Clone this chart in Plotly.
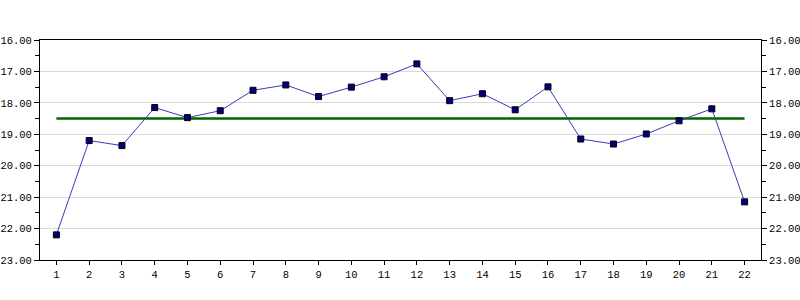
import plotly.graph_objects as go

x_vals = list(range(1, 23))
y_vals = [22.20, 19.20, 19.36, 18.15, 18.47, 18.25, 17.60, 17.43, 17.80, 17.50, 17.17,
          16.76, 17.93, 17.71, 18.22, 17.49, 19.15, 19.31, 18.99, 18.57, 18.19, 21.15]
target_value = 18.5
x_tick_labels = [str(v) for v in x_vals]

font = dict(family="Liberation Mono", size=10.5, color="#000000")

fig = go.Figure()
fig.add_trace(go.Scatter(
    x=[x_vals[0], x_vals[-1]], y=[target_value, target_value],
    mode="lines", line=dict(color="#006400", width=2.5),
    hoverinfo="skip", showlegend=False))
fig.add_trace(go.Scatter(
    x=x_vals, y=y_vals, mode="lines+markers",
    line=dict(color="#3c3cb4", width=1),
    marker=dict(symbol="square", size=6, color="#000080",
                line=dict(color="#000000", width=1)),
    showlegend=False))
fig.add_trace(go.Scatter(
    x=x_vals, y=y_vals, yaxis="y2", mode="markers",
    marker=dict(opacity=0), hoverinfo="skip", showlegend=False))

yaxis_common = dict(
    range=[23, 16], dtick=1, tick0=16, tickformat=".2f",
    ticks="outside", ticklen=5, tickcolor="#000000",
    showline=True, linecolor="#000000", linewidth=1,
    tickfont=font, zeroline=False, automargin=False,
    minor=dict(dtick=0.5, ticks="outside", ticklen=4, tickcolor="#000000", showgrid=False),
)

fig.update_layout(
    width=800, height=300,
    margin=dict(l=40, r=39, t=40, b=40),
    paper_bgcolor="#ffffff", plot_bgcolor="#ffffff",
    showlegend=False,
    xaxis=dict(
        range=[0.5, 22.5], tickmode="array", tickvals=x_vals, ticktext=x_tick_labels,
        ticks="outside", ticklen=4, tickcolor="#000000",
        showline=True, linecolor="#000000", linewidth=1, mirror=True,
        showgrid=False, zeroline=False, tickfont=font, automargin=False,
    ),
    yaxis=dict(**yaxis_common, side="left", showgrid=True, gridcolor="#d9d9d9", gridwidth=1),
    yaxis2=dict(**yaxis_common, side="right", overlaying="y", showgrid=False),
)

fig.write_html("out.html")
